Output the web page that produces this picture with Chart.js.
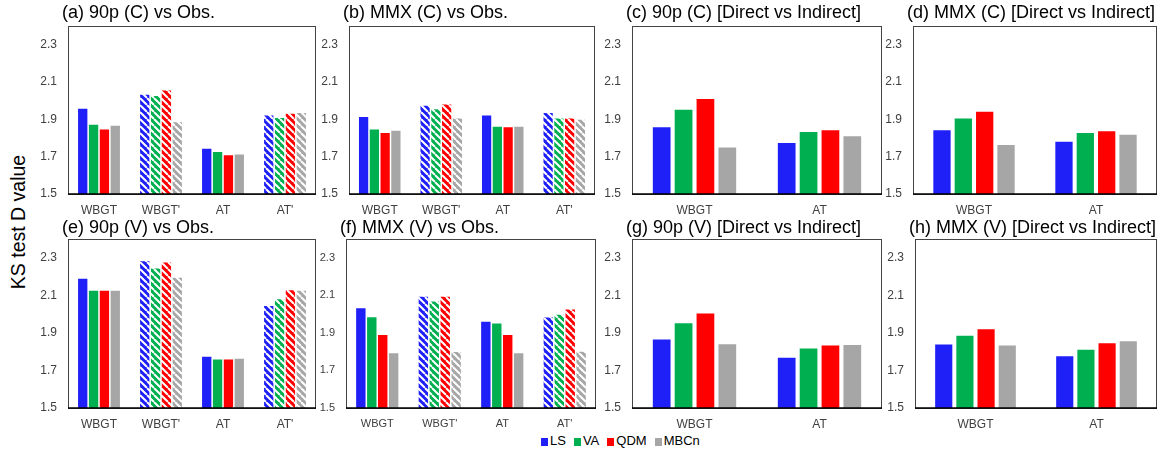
<!DOCTYPE html>
<html>
<head>
<meta charset="utf-8">
<script src="https://cdn.jsdelivr.net/npm/chart.js@4.4.1/dist/chart.umd.min.js"></script>
<style>
  body { margin: 0; background: #fff; font-family: "Liberation Sans", Arial, sans-serif; }
  #wrap { position: relative; width: 1162px; height: 454px; overflow: hidden; }
  #wrap canvas { position: absolute; }
  #ytitle { position: absolute; left: 18px; top: 222px; transform: translate(-50%, -50%) rotate(-90deg);
            font-size: 19.5px; white-space: nowrap; color: #000; }
  #legend { position: absolute; left: 541px; top: 433px; font-size: 13px; color: #000; white-space: nowrap; }
  #legend span.box { display: inline-block; width: 7px; height: 8px; margin-right: 2px; vertical-align: -1px; }
  #legend span.item { margin-right: 8px; }
</style>
</head>
<body>
<div id="wrap">
  <div id="ytitle">KS test D value</div>
  <div id="legend"></div>
</div>
<script>
const methods = ['LS', 'VA', 'QDM', 'MBCn'];
const colors = ['#1f1ff8', '#00b050', '#ff0000', '#a6a6a6'];
const catsObs = ['WBGT', "WBGT'", 'AT', "AT'"];
const catsDir = ['WBGT', 'AT'];
const hatchedObs = [false, true, false, true];
const yTicks = [1.5, 1.7, 1.9, 2.1, 2.3];

// one row per method (LS, VA, QDM, MBCn), one value per category
const valsA = [[1.957, 2.032, 1.743, 1.921], [1.871, 2.025, 1.725, 1.907], [1.845, 2.055, 1.707, 1.930], [1.866, 1.884, 1.711, 1.934]];
const valsB = [[1.912, 1.973, 1.920, 1.934], [1.846, 1.954, 1.860, 1.905], [1.827, 1.979, 1.857, 1.905], [1.839, 1.905, 1.860, 1.898]];
const valsC = [[1.857, 1.773], [1.952, 1.832], [2.009, 1.841], [1.749, 1.809]];
const valsD = [[1.841, 1.780], [1.904, 1.827], [1.941, 1.836], [1.762, 1.818]];
const valsE = [[2.188, 2.281, 1.773, 2.043], [2.125, 2.243, 1.758, 2.079], [2.125, 2.275, 1.758, 2.127], [2.125, 2.194, 1.762, 2.125]];
const valsF = [[2.031, 2.092, 1.959, 1.982], [1.983, 2.067, 1.950, 1.996], [1.889, 2.092, 1.889, 2.025], [1.792, 1.798, 1.792, 1.799]];
const valsG = [[1.865, 1.767], [1.951, 1.817], [2.003, 1.833], [1.840, 1.835]];
const valsH = [[1.838, 1.776], [1.885, 1.810], [1.919, 1.845], [1.833, 1.856]];

const panels = [
  { title: '(a) 90p (C) vs Obs.', cats: catsObs, vals: valsA, left: 68, width: 248, row: 0, fs: 12 },
  { title: '(b) MMX (C) vs Obs.', cats: catsObs, vals: valsB, left: 349, width: 246, row: 0, fs: 12 },
  { title: '(c) 90p (C) [Direct vs Indirect]', cats: catsDir, vals: valsC, left: 632, width: 250, row: 0, fs: 12 },
  { title: '(d) MMX (C) [Direct vs Indirect]', cats: catsDir, vals: valsD, left: 913, width: 244, row: 0, fs: 12 },
  { title: '(e) 90p (V) vs Obs.', cats: catsObs, vals: valsE, left: 68, width: 248, row: 1, fs: 12 },
  { title: '(f) MMX (V) vs Obs.', cats: catsObs, vals: valsF, left: 346, width: 250, row: 1, fs: 11 },
  { title: '(g) 90p (V) [Direct vs Indirect]', cats: catsDir, vals: valsG, left: 632, width: 250, row: 1, fs: 12 },
  { title: '(h) MMX (V) [Direct vs Indirect]', cats: catsDir, vals: valsH, left: 915, width: 242, row: 1, fs: 12 }
];
const rows = [{ top: 26, height: 168, titleOff: 12.5 }, { top: 239, height: 169, titleOff: 11 }];

function hatch(color) {
  const s = 7;
  const c = document.createElement('canvas');
  c.width = s; c.height = s;
  const g = c.getContext('2d');
  g.fillStyle = color;
  g.fillRect(0, 0, s, s);
  g.strokeStyle = '#fff';
  g.lineWidth = 2;
  g.beginPath();
  for (const o of [-s, 0, s]) { g.moveTo(o, 0); g.lineTo(o + s, s); }
  g.stroke();
  return g.createPattern(c, 'repeat');
}

const framePlugin = {
  id: 'frame',
  afterDraw(chart, args, opts) {
    const { ctx, chartArea: a } = chart;
    ctx.save();
    ctx.strokeStyle = '#444';
    ctx.lineWidth = 1;
    ctx.strokeRect(a.left + 0.5, a.top + 0.5, a.right - a.left - 1, a.bottom - a.top);
    ctx.strokeStyle = '#000';
    ctx.lineWidth = 1.6;
    ctx.beginPath();
    ctx.moveTo(a.left, a.bottom);
    ctx.lineTo(a.right, a.bottom);
    ctx.stroke();
    // panel title
    ctx.fillStyle = '#000';
    ctx.font = '18px "Liberation Sans", Arial, sans-serif';
    ctx.textBaseline = 'middle';
    ctx.fillText(opts.text, a.left - 6, a.top - opts.off);
    ctx.restore();
  }
};

const wrap = document.getElementById('wrap');
const padL = 40, padT = 26, padB = 30, padR = 3;

panels.forEach(p => {
  const r = rows[p.row];
  const cv = document.createElement('canvas');
  cv.width = p.width + padL + padR;
  cv.height = r.height + padT + padB;
  cv.style.left = (p.left - padL) + 'px';
  cv.style.top = (r.top - padT) + 'px';
  wrap.appendChild(cv);

  const isObs = p.cats.length === 4;
  const datasets = methods.map((m, i) => ({
    label: m,
    data: p.vals[i],
    backgroundColor: p.cats.map((c, j) => (isObs && hatchedObs[j]) ? hatch(colors[i]) : colors[i]),
    borderWidth: 0,
    categoryPercentage: 0.7,
    barPercentage: isObs ? 0.86 : 0.81
  }));

  new Chart(cv, {
    type: 'bar',
    data: { labels: p.cats, datasets: datasets },
    plugins: [framePlugin],
    options: {
      responsive: false,
      animation: false,
      layout: { padding: { top: padT, right: padR, left: 0, bottom: 0 } },
      plugins: {
        legend: { display: false },
        tooltip: { enabled: false },
        frame: { text: p.title, off: r.titleOff }
      },
      scales: {
        x: {
          grid: { display: false, drawTicks: false },
          border: { display: false },
          ticks: { color: '#404040', padding: 9, font: { family: '"Liberation Sans", Arial, sans-serif', size: p.fs } },
          afterFit: s => { s.height = padB; }
        },
        y: {
          min: 1.5,
          max: 2.4,
          grid: { display: false, drawTicks: false },
          border: { display: false },
          afterBuildTicks: s => { s.ticks = yTicks.map(v => ({ value: v })); },
          ticks: {
            color: '#404040',
            padding: 11,
            font: { family: '"Liberation Sans", Arial, sans-serif', size: p.fs },
            callback: v => Number(v).toFixed(1)
          },
          afterFit: s => { s.width = padL; }
        }
      }
    }
  });
});

const legend = document.getElementById('legend');
methods.forEach((m, i) => {
  const it = document.createElement('span');
  it.className = 'item';
  const b = document.createElement('span');
  b.className = 'box';
  b.style.background = colors[i];
  it.appendChild(b);
  it.appendChild(document.createTextNode(m));
  legend.appendChild(it);
});
</script>
</body>
</html>
